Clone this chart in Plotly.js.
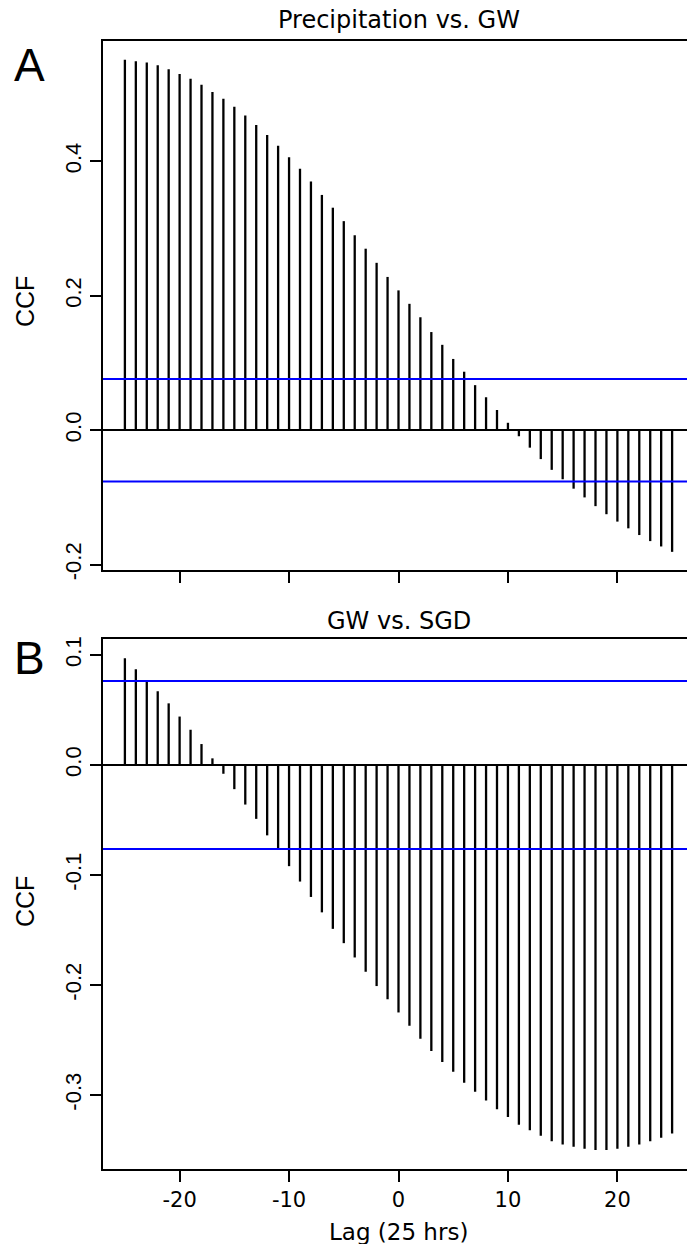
<!DOCTYPE html>
<html>
<head>
<meta charset="utf-8">
<script src="https://cdn.plot.ly/plotly-3.0.1.min.js"></script>
<style>
  html, body { margin: 0; padding: 0; overflow: hidden; background: #fff; }
  #chart { width: 700px; height: 1244px; }
</style>
</head>
<body>
<div id="chart"></div>
<script>
// Lags in units of 25 hours
const lags = [-25, -24, -23, -22, -21, -20, -19, -18, -17, -16, -15, -14, -13, -12, -11, -10,
  -9, -8, -7, -6, -5, -4, -3, -2, -1, 0, 1, 2, 3, 4, 5, 6, 7, 8, 9, 10,
  11, 12, 13, 14, 15, 16, 17, 18, 19, 20, 21, 22, 23, 24, 25];

// Cross-correlation: precipitation vs. groundwater level
const ccfPrecipGW = [0.551, 0.549, 0.547, 0.543, 0.537, 0.530, 0.523, 0.514, 0.503, 0.493,
  0.481, 0.468, 0.454, 0.439, 0.423, 0.406, 0.389, 0.370, 0.350, 0.331,
  0.311, 0.290, 0.270, 0.249, 0.228, 0.208, 0.188, 0.168, 0.146, 0.127,
  0.106, 0.087, 0.067, 0.049, 0.030, 0.011, -0.009, -0.026, -0.043, -0.059,
  -0.073, -0.087, -0.100, -0.113, -0.125, -0.136, -0.146, -0.156, -0.165, -0.173, -0.181];

// Cross-correlation: groundwater level vs. submarine groundwater discharge
const ccfGWSGD = [0.097, 0.087, 0.077, 0.067, 0.056, 0.044, 0.032, 0.019, 0.006, -0.008,
  -0.022, -0.036, -0.049, -0.064, -0.077, -0.092, -0.106, -0.120, -0.134, -0.149,
  -0.162, -0.175, -0.188, -0.201, -0.213, -0.225, -0.237, -0.249, -0.260, -0.270,
  -0.279, -0.289, -0.297, -0.305, -0.313, -0.320, -0.327, -0.332, -0.337, -0.342,
  -0.345, -0.347, -0.349, -0.350, -0.350, -0.349, -0.347, -0.345, -0.342, -0.339, -0.335];

// 95% confidence bounds
const ciPrecipGW = 0.0763;
const ciGWSGD = 0.0763;

const panelTitles = ['Precipitation vs. GW', 'GW vs. SGD'];
const panelLetters = ['A', 'B'];
const yLabel = 'CCF';
const xLabel = 'Lag (25 hrs)';

const xTicks = [-20, -10, 0, 10, 20];
const yTicksA = [-0.2, 0.0, 0.2, 0.4];
const yTickTextA = ['-0.2', '0.0', '0.2', '0.4'];
const yTicksB = [-0.3, -0.2, -0.1, 0.0, 0.1];
const yTickTextB = ['-0.3', '-0.2', '-0.1', '0.0', '0.1'];

// Vertical spikes from zero to each value (R "type h" style)
function spikes(xs, ys) {
  const x = [], y = [];
  xs.forEach((v, i) => { x.push(v, v, null); y.push(0, ys[i], null); });
  return { x, y };
}

const sA = spikes(lags, ccfPrecipGW);
const sB = spikes(lags, ccfGWSGD);

const spikeLine = { color: '#000', width: 2.3 };
const traces = [
  { type: 'scatter', mode: 'lines', x: sA.x, y: sA.y, xaxis: 'x', yaxis: 'y', line: spikeLine, hoverinfo: 'skip', showlegend: false },
  { type: 'scatter', mode: 'lines', x: sB.x, y: sB.y, xaxis: 'x2', yaxis: 'y2', line: spikeLine, hoverinfo: 'skip', showlegend: false }
];

const H = 1244;
const sans = 'DejaVu Sans, Verdana, sans-serif';
const arial = 'Liberation Sans, Arial, sans-serif';
const px = v => 1 - v / H;

const axisCommon = {
  showline: true, mirror: true, linecolor: '#000', linewidth: 2,
  ticks: 'outside', ticklen: 11, tickwidth: 2, tickcolor: '#000',
  showgrid: false, automargin: false, fixedrange: true
};

const layout = {
  width: 700, height: H,
  margin: { l: 103, r: 6, t: 0, b: 0 },
  paper_bgcolor: '#fff', plot_bgcolor: '#fff',
  showlegend: false,
  xaxis: Object.assign({}, axisCommon, {
    domain: [0, 1], anchor: 'y', range: [-27, 27],
    tickmode: 'array', tickvals: xTicks, showticklabels: false, zeroline: false
  }),
  yaxis: Object.assign({}, axisCommon, {
    domain: [px(570), px(41)], anchor: 'x', range: [-0.208, 0.579],
    tickmode: 'array', tickvals: yTicksA, ticktext: yTickTextA, tickangle: -90,
    tickfont: { family: arial, size: 22, color: '#000' },
    zeroline: true, zerolinecolor: '#000', zerolinewidth: 2
  }),
  xaxis2: Object.assign({}, axisCommon, {
    domain: [0, 1], anchor: 'y2', range: [-27, 27],
    tickmode: 'array', tickvals: xTicks, ticktext: xTicks.map(String),
    tickfont: { family: sans, size: 21, color: '#000' }, zeroline: false
  }),
  yaxis2: Object.assign({}, axisCommon, {
    domain: [px(1169), px(639)], anchor: 'x2', range: [-0.3673, 0.1145],
    tickmode: 'array', tickvals: yTicksB, ticktext: yTickTextB, tickangle: -90,
    tickfont: { family: arial, size: 22, color: '#000' },
    zeroline: true, zerolinecolor: '#000', zerolinewidth: 2
  }),
  shapes: [
    { type: 'line', xref: 'x domain', yref: 'y', x0: 0, x1: 1, y0: ciPrecipGW, y1: ciPrecipGW, line: { color: '#0000ff', width: 2 }, layer: 'above' },
    { type: 'line', xref: 'x domain', yref: 'y', x0: 0, x1: 1, y0: -ciPrecipGW, y1: -ciPrecipGW, line: { color: '#0000ff', width: 2 }, layer: 'above' },
    { type: 'line', xref: 'x2 domain', yref: 'y2', x0: 0, x1: 1, y0: ciGWSGD, y1: ciGWSGD, line: { color: '#0000ff', width: 2 }, layer: 'above' },
    { type: 'line', xref: 'x2 domain', yref: 'y2', x0: 0, x1: 1, y0: -ciGWSGD, y1: -ciGWSGD, line: { color: '#0000ff', width: 2 }, layer: 'above' }
  ],
  annotations: [
    { text: panelTitles[0], xref: 'paper', yref: 'paper', x: 0.5, y: px(20), xanchor: 'center', yanchor: 'middle', showarrow: false, font: { family: sans, size: 24, color: '#000' } },
    { text: panelTitles[1], xref: 'paper', yref: 'paper', x: 0.5, y: px(621), xanchor: 'center', yanchor: 'middle', showarrow: false, font: { family: sans, size: 24, color: '#000' } },
    { text: panelLetters[0], xref: 'paper', yref: 'paper', x: (29 - 103) / 591, y: px(65), xanchor: 'center', yanchor: 'middle', showarrow: false, font: { family: arial, size: 46, color: '#000' } },
    { text: panelLetters[1], xref: 'paper', yref: 'paper', x: (29 - 103) / 591, y: px(658), xanchor: 'center', yanchor: 'middle', showarrow: false, font: { family: arial, size: 46, color: '#000' } },
    { text: yLabel, xref: 'paper', yref: 'paper', x: (25 - 103) / 591, y: px(302), xanchor: 'center', yanchor: 'middle', textangle: -90, showarrow: false, font: { family: arial, size: 25, color: '#000' } },
    { text: yLabel, xref: 'paper', yref: 'paper', x: (25 - 103) / 591, y: px(902), xanchor: 'center', yanchor: 'middle', textangle: -90, showarrow: false, font: { family: arial, size: 25, color: '#000' } },
    { text: xLabel, xref: 'paper', yref: 'paper', x: 0.5, y: px(1232), xanchor: 'center', yanchor: 'middle', showarrow: false, font: { family: sans, size: 23, color: '#000' } }
  ]
};

Plotly.newPlot('chart', traces, layout, { displayModeBar: false, staticPlot: true });
</script>
</body>
</html>
